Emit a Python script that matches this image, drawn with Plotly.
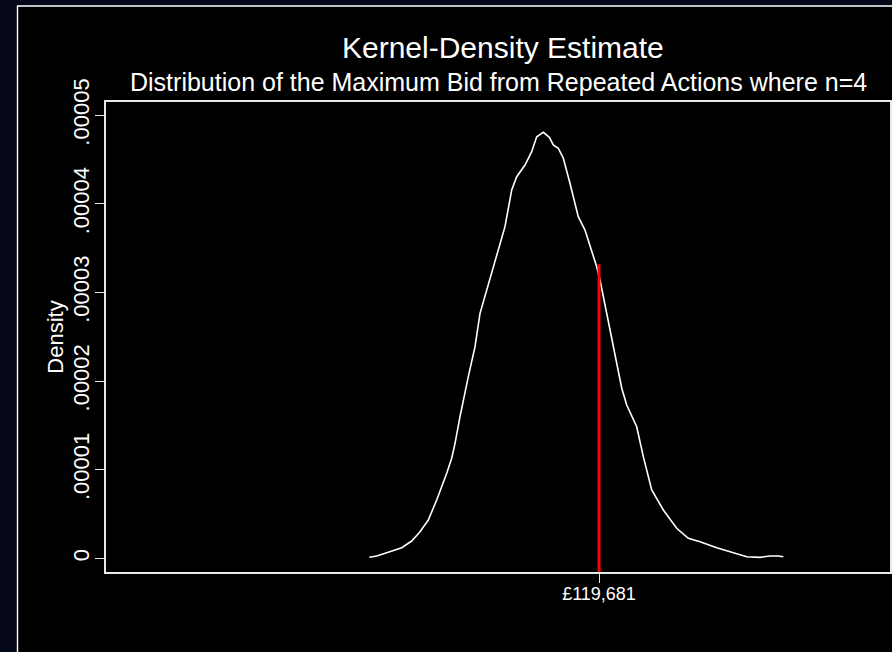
import plotly.graph_objects as go

# ---- data ----
bid_gbp = [87870, 88890, 90280, 92360, 93740, 94890, 96040, 97200, 98590, 99280,
           99740, 100430, 101580, 102510, 103200, 103990, 104580, 105510, 106660, 107590,
           108280, 109430, 110360, 111050, 111970, 112800, 113350, 114040, 114740, 115660,
           116810, 117740, 118670, 119360, 119820, 121200, 122130, 122830, 123520, 124900,
           125820, 126980, 128590, 130440, 132050, 133670, 135980, 138280, 140140, 141980,
           143370, 144510, 145210]
density_e5 = [0.011, 0.026, 0.063, 0.120, 0.195, 0.300, 0.432, 0.658, 0.959, 1.129,
              1.298, 1.598, 2.050, 2.388, 2.765, 2.991, 3.141, 3.404, 3.743, 4.157,
              4.307, 4.439, 4.589, 4.758, 4.808, 4.752, 4.665, 4.628, 4.515, 4.233,
              3.856, 3.705, 3.480, 3.291, 3.141, 2.577, 2.163, 1.919, 1.730, 1.485,
              1.147, 0.771, 0.545, 0.339, 0.226, 0.187, 0.120, 0.063, 0.018, 0.011,
              0.026, 0.026, 0.018]
density = [d * 1e-5 for d in density_e5]

marker_value = 119681
marker_density_top = 3.32e-5

y_tick_vals = [0, 1e-5, 2e-5, 3e-5, 4e-5, 5e-5]
y_tick_text = ["0", ".00001", ".00002", ".00003", ".00004", ".00005"]
x_tick_vals = [marker_value]
x_tick_text = ["£119,681"]

X_RANGE = [51400, 159984]
Y_RANGE = [-1.546e-6, 5.150e-5]

FONT = "Liberation Sans, Arial, Helvetica, sans-serif"
AX = "#e8e8e8"

fig = go.Figure()
fig.add_trace(go.Scatter(x=bid_gbp, y=density, mode="lines",
                         line=dict(color="white", width=1.6), hoverinfo="skip",
                         showlegend=False))
fig.add_trace(go.Scatter(x=[marker_value, marker_value], y=[Y_RANGE[0], marker_density_top],
                         mode="lines", line=dict(color="#ff0000", width=3),
                         hoverinfo="skip", showlegend=False))

L, R, T, B = 106, 2, 102, 80
W, H = 892, 652
pw, ph = W - L - R, H - T - B

def px_x(px):
    return (px - L) / pw

def px_y(py):
    return (H - B - py) / ph

fig.update_layout(
    width=W, height=H,
    margin=dict(l=L, r=R, t=T, b=B, pad=0, autoexpand=False),
    paper_bgcolor="#050818",
    plot_bgcolor="black",
    font=dict(family=FONT, color="white"),
    showlegend=False,
    shapes=[dict(type="rect", xref="paper", yref="paper",
                 x0=px_x(17.5), x1=px_x(960), y0=px_y(720), y1=px_y(6),
                 fillcolor="black", line=dict(color="white", width=1.4),
                 layer="below")],
    annotations=[
        dict(text="Kernel-Density Estimate", xref="paper", yref="paper",
             x=px_x(502.5), y=px_y(47), xanchor="center", yanchor="middle",
             showarrow=False, font=dict(size=30, color="white", family=FONT)),
        dict(text="Distribution of the Maximum Bid from Repeated Actions where n=4",
             xref="paper", yref="paper", x=px_x(498.3), y=px_y(82),
             xanchor="center", yanchor="middle", showarrow=False,
             font=dict(size=25, color="white", family=FONT)),
    ],
)

fig.update_xaxes(range=X_RANGE, tickvals=x_tick_vals, ticktext=x_tick_text,
                 showgrid=False, zeroline=False, showline=True, linecolor=AX,
                 linewidth=1.7, mirror=True, ticks="outside", ticklen=9,
                 tickcolor=AX, tickwidth=1, tickfont=dict(size=18, color="white"),
                 ticklabelstandoff=-4, automargin=False)
fig.update_yaxes(range=Y_RANGE, tickvals=y_tick_vals, ticktext=y_tick_text,
                 showgrid=False, zeroline=False, showline=True, linecolor=AX,
                 linewidth=1.7, mirror="ticks", ticks="outside", ticklen=9,
                 tickcolor=AX, tickwidth=1, tickangle=-90,
                 tickfont=dict(size=22, color="white"), ticklabelstandoff=-3,
                 automargin=False,
                 title=dict(text="Density", font=dict(size=22, color="white"), standoff=0))

fig.write_html("out.html")
